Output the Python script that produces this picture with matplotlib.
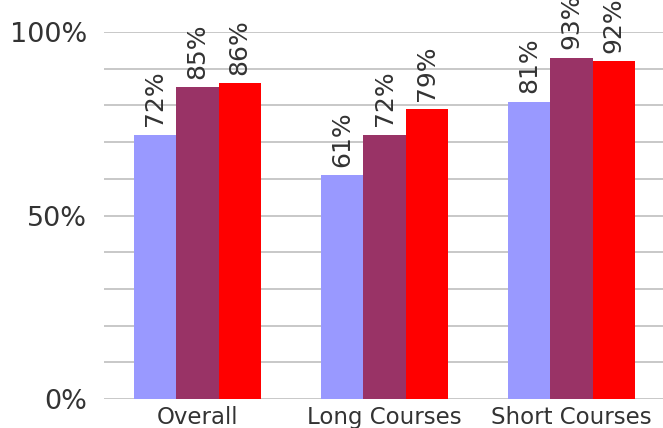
import numpy as np
import matplotlib

matplotlib.use("Agg")
import matplotlib.pyplot as plt

categories = ["Overall", "Long Courses", "Short Courses"]
series_a = [72, 61, 81]
series_b = [85, 72, 93]
series_c = [86, 79, 92]
colors = ["#9999FF", "#993366", "#FF0000"]
yticks = [0, 50, 100]
ytick_labels = ["0%", "50%", "100%"]

W, H = 663, 428
fig = plt.figure(figsize=(W / 100, H / 100), dpi=100)
ax = fig.add_axes([104 / W, 29 / H, 561 / W, 367 / H])

text_color = "#333333"

x = np.arange(len(categories))
bw = 0.225
for i, (vals, c) in enumerate(zip([series_a, series_b, series_c], colors)):
    pos = x + (i - 1) * bw
    ax.bar(pos, vals, width=bw, color=c, zorder=3)
    for px, v in zip(pos, vals):
        ax.annotate(f"{v}%", (px, v), xytext=(0, 6), textcoords="offset points",
                    rotation=90, ha="center", va="bottom", fontsize=18,
                    color=text_color, annotation_clip=False)

ax.set_xlim(-0.5, 2.5)
ax.set_ylim(0, 100)
ax.set_yticks(np.arange(0, 101, 10), minor=True)
ax.set_yticks(yticks)
ax.set_yticklabels(ytick_labels, fontsize=19.5, color=text_color)
ax.set_xticks(x)
ax.set_xticklabels(categories, fontsize=16.5, color=text_color)
ax.tick_params(axis="both", which="both", length=0)
ax.tick_params(axis="y", pad=12)
ax.tick_params(axis="x", pad=5)
ax.grid(axis="y", which="both", color="#BFBFBF", linewidth=1.2, zorder=0)
for s in ax.spines.values():
    s.set_visible(False)

fig.savefig("out.png", dpi=100)
